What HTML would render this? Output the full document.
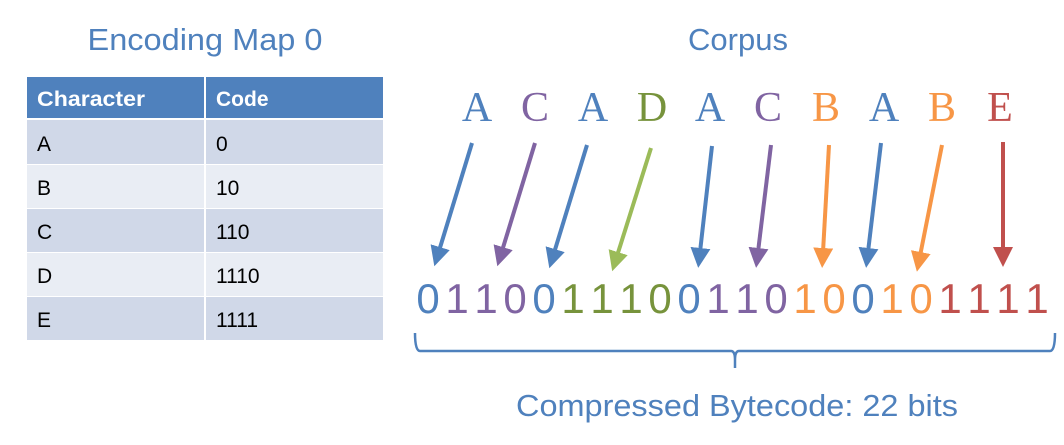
<!DOCTYPE html>
<html><head><meta charset="utf-8"><style>
html,body{margin:0;padding:0;background:#fff;}
body{width:1064px;height:445px;overflow:hidden;position:relative;font-family:"Liberation Sans",sans-serif;}
</style></head><body>
<svg width="1064" height="445" viewBox="0 0 1064 445" xmlns="http://www.w3.org/2000/svg" style="position:absolute;left:0;top:0">
<defs>
<marker id="hb" markerWidth="5" markerHeight="5" refX="1" refY="2.5" orient="auto" markerUnits="strokeWidth"><path d="M0,0 L5,2.5 L0,5 Z" fill="#4f81bd"/></marker>
<marker id="hp" markerWidth="5" markerHeight="5" refX="1" refY="2.5" orient="auto" markerUnits="strokeWidth"><path d="M0,0 L5,2.5 L0,5 Z" fill="#8064a2"/></marker>
<marker id="hg" markerWidth="5" markerHeight="5" refX="1" refY="2.5" orient="auto" markerUnits="strokeWidth"><path d="M0,0 L5,2.5 L0,5 Z" fill="#9bbb59"/></marker>
<marker id="ho" markerWidth="5" markerHeight="5" refX="1" refY="2.5" orient="auto" markerUnits="strokeWidth"><path d="M0,0 L5,2.5 L0,5 Z" fill="#f79646"/></marker>
<marker id="hr" markerWidth="5" markerHeight="5" refX="1" refY="2.5" orient="auto" markerUnits="strokeWidth"><path d="M0,0 L5,2.5 L0,5 Z" fill="#c0504d"/></marker>
</defs>
<text x="205" y="50" font-size="31" fill="#4f81bd" text-anchor="middle" font-family="Liberation Sans, sans-serif" textLength="235" lengthAdjust="spacingAndGlyphs">Encoding Map 0</text>
<text x="738" y="50" font-size="31" fill="#4f81bd" text-anchor="middle" font-family="Liberation Sans, sans-serif">Corpus</text>
<!-- table -->
<rect x="27" y="77" width="356" height="41" fill="#4f81bd"/>
<rect x="27" y="120" width="356" height="44" fill="#d0d8e8"/>
<rect x="27" y="165" width="356" height="43" fill="#e9edf4"/>
<rect x="27" y="209" width="356" height="43" fill="#d0d8e8"/>
<rect x="27" y="253" width="356" height="43" fill="#e9edf4"/>
<rect x="27" y="297" width="356" height="43" fill="#d0d8e8"/>
<line x1="205" y1="77" x2="205" y2="340" stroke="#fff" stroke-width="2"/>
<g font-family="Liberation Sans, sans-serif" font-size="21">
<text x="37" y="106" fill="#fff" font-weight="bold" textLength="108" lengthAdjust="spacingAndGlyphs">Character</text>
<text x="216" y="106" fill="#fff" font-weight="bold">Code</text>
<text x="37" y="151">A</text><text x="216" y="151">0</text>
<text x="37" y="195">B</text><text x="216" y="195">10</text>
<text x="37" y="239">C</text><text x="216" y="239">110</text>
<text x="37" y="283">D</text><text x="216" y="283">1110</text>
<text x="37" y="327">E</text><text x="216" y="327">1111</text>
</g>
<!-- corpus letters -->
<g font-family="Liberation Serif, serif" font-size="42" text-anchor="middle">
<text x="477" y="121" fill="#4f81bd">A</text>
<text x="535" y="121" fill="#8064a2">C</text>
<text x="593" y="121" fill="#4f81bd">A</text>
<text x="652" y="121" fill="#77933c">D</text>
<text x="710" y="121" fill="#4f81bd">A</text>
<text x="768" y="121" fill="#8064a2">C</text>
<text x="826" y="121" fill="#f79646">B</text>
<text x="884" y="121" fill="#4f81bd">A</text>
<text x="942" y="121" fill="#f79646">B</text>
<text x="1000" y="121" fill="#c0504d">E</text>
</g>
<!-- arrows -->
<g stroke-width="4" fill="none">
<line x1="472" y1="143" x2="439" y2="251" stroke="#4f81bd" marker-end="url(#hb)"/>
<line x1="535" y1="143" x2="502" y2="251" stroke="#8064a2" marker-end="url(#hp)"/>
<line x1="587" y1="145" x2="554" y2="253" stroke="#4f81bd" marker-end="url(#hb)"/>
<line x1="651" y1="148" x2="617" y2="256" stroke="#9bbb59" marker-end="url(#hg)"/>
<line x1="712" y1="146" x2="700" y2="252" stroke="#4f81bd" marker-end="url(#hb)"/>
<line x1="771" y1="145" x2="758" y2="252" stroke="#8064a2" marker-end="url(#hp)"/>
<line x1="829" y1="145" x2="823" y2="252" stroke="#f79646" marker-end="url(#ho)"/>
<line x1="881" y1="143" x2="868" y2="252" stroke="#4f81bd" marker-end="url(#hb)"/>
<line x1="942" y1="145" x2="920" y2="256" stroke="#f79646" marker-end="url(#ho)"/>
<line x1="1003" y1="142" x2="1003" y2="251" stroke="#c0504d" marker-end="url(#hr)"/>
</g>
<!-- digits -->
<g font-family="Liberation Sans, sans-serif" font-size="42" text-anchor="middle">
<text x="428" y="313" fill="#4f81bd">0</text>
<text x="457" y="313" fill="#8064a2">1</text>
<text x="486" y="313" fill="#8064a2">1</text>
<text x="515" y="313" fill="#8064a2">0</text>
<text x="544" y="313" fill="#4f81bd">0</text>
<text x="573" y="313" fill="#77933c">1</text>
<text x="602" y="313" fill="#77933c">1</text>
<text x="631" y="313" fill="#77933c">1</text>
<text x="660" y="313" fill="#77933c">0</text>
<text x="689" y="313" fill="#4f81bd">0</text>
<text x="718" y="313" fill="#8064a2">1</text>
<text x="747" y="313" fill="#8064a2">1</text>
<text x="776" y="313" fill="#8064a2">0</text>
<text x="805" y="313" fill="#f79646">1</text>
<text x="834" y="313" fill="#f79646">0</text>
<text x="863" y="313" fill="#4f81bd">0</text>
<text x="892" y="313" fill="#f79646">1</text>
<text x="921" y="313" fill="#f79646">0</text>
<text x="950" y="313" fill="#c0504d">1</text>
<text x="979" y="313" fill="#c0504d">1</text>
<text x="1008" y="313" fill="#c0504d">1</text>
<text x="1037" y="313" fill="#c0504d">1</text>
</g>
<!-- brace -->
<path d="M415,333 Q415,351 420,351 L731,351 Q735,351 735,360 L735,368 M735,360 Q735,351 739,351 L1050,351 Q1055,351 1055,333" stroke="#4f81bd" stroke-width="2.5" fill="none"/>
<text x="737" y="416" font-size="31" fill="#4f81bd" text-anchor="middle" font-family="Liberation Sans, sans-serif" textLength="442" lengthAdjust="spacingAndGlyphs">Compressed Bytecode: 22 bits</text>
</svg>
</body></html>
